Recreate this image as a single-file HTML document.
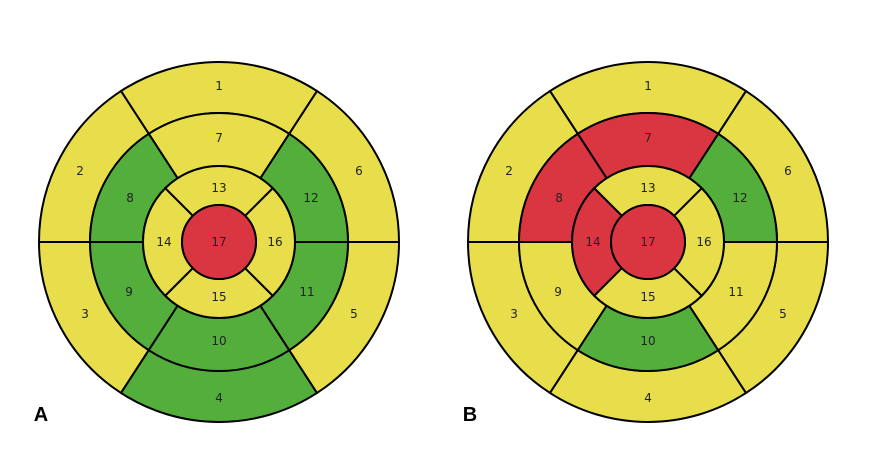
<!DOCTYPE html>
<html><head><style>body{margin:0;background:#fff}svg{display:block}</style></head><body>
<svg width="874" height="454" viewBox="0 0 874 454" xmlns="http://www.w3.org/2000/svg">
<defs>
<style>
path,circle{stroke:#000;stroke-width:2}
.y{fill:#e8de4c}.g{fill:#53ae3c}.r{fill:#da3641}
text{font-family:"DejaVu Sans","Liberation Sans",sans-serif;font-size:12px;fill:#222;text-anchor:middle;dominant-baseline:central}
</style>
</defs>
<g id="A" transform="translate(219,242)">
<path class="y" d="M-98,-150.97 A180,180 0 0 1 98,-150.97 L70.25,-108.19 A129,129 0 0 0 -70.25,-108.19Z"/>
<path class="y" d="M-180,0 A180,180 0 0 1 -98,-150.97 L-70.25,-108.19 A129,129 0 0 0 -129,0Z"/>
<path class="y" d="M-98,150.97 A180,180 0 0 1 -180,0 L-129,0 A129,129 0 0 0 -70.25,108.19Z"/>
<path class="g" d="M98,150.97 A180,180 0 0 1 -98,150.97 L-70.25,108.19 A129,129 0 0 0 70.25,108.19Z"/>
<path class="y" d="M180,0 A180,180 0 0 1 98,150.97 L70.25,108.19 A129,129 0 0 0 129,0Z"/>
<path class="y" d="M98,-150.97 A180,180 0 0 1 180,0 L129,0 A129,129 0 0 0 70.25,-108.19Z"/>
<path class="y" d="M-70.25,-108.19 A129,129 0 0 1 70.25,-108.19 L41.39,-63.74 A76,76 0 0 0 -41.39,-63.74Z"/>
<path class="g" d="M-129,0 A129,129 0 0 1 -70.25,-108.19 L-41.39,-63.74 A76,76 0 0 0 -76,0Z"/>
<path class="g" d="M-70.25,108.19 A129,129 0 0 1 -129,0 L-76,0 A76,76 0 0 0 -41.39,63.74Z"/>
<path class="g" d="M70.25,108.19 A129,129 0 0 1 -70.25,108.19 L-41.39,63.74 A76,76 0 0 0 41.39,63.74Z"/>
<path class="g" d="M129,0 A129,129 0 0 1 70.25,108.19 L41.39,63.74 A76,76 0 0 0 76,0Z"/>
<path class="g" d="M70.25,-108.19 A129,129 0 0 1 129,0 L76,0 A76,76 0 0 0 41.39,-63.74Z"/>
<path class="y" d="M-53.74,-53.74 A76,76 0 0 1 53.74,-53.74 L26.16,-26.16 A37,37 0 0 0 -26.16,-26.16Z"/>
<path class="y" d="M-53.74,53.74 A76,76 0 0 1 -53.74,-53.74 L-26.16,-26.16 A37,37 0 0 0 -26.16,26.16Z"/>
<path class="y" d="M53.74,53.74 A76,76 0 0 1 -53.74,53.74 L-26.16,26.16 A37,37 0 0 0 26.16,26.16Z"/>
<path class="y" d="M53.74,-53.74 A76,76 0 0 1 53.74,53.74 L26.16,26.16 A37,37 0 0 0 26.16,-26.16Z"/>
<circle class="r" r="37"/>
<text x="0" y="-156">1</text><text x="-139" y="-71">2</text><text x="-134" y="72">3</text><text x="0" y="156">4</text><text x="135" y="72">5</text><text x="140" y="-71">6</text>
<text x="0" y="-104">7</text><text x="-89" y="-44">8</text><text x="-90" y="50">9</text><text x="0" y="99">10</text><text x="88" y="50">11</text><text x="92" y="-44">12</text>
<text x="0" y="-54">13</text><text x="-55" y="0">14</text><text x="0" y="55">15</text><text x="56" y="0">16</text><text x="0" y="0">17</text>
</g>
<g transform="translate(648,242)">
<path class="y" d="M-98,-150.97 A180,180 0 0 1 98,-150.97 L70.25,-108.19 A129,129 0 0 0 -70.25,-108.19Z"/>
<path class="y" d="M-180,0 A180,180 0 0 1 -98,-150.97 L-70.25,-108.19 A129,129 0 0 0 -129,0Z"/>
<path class="y" d="M-98,150.97 A180,180 0 0 1 -180,0 L-129,0 A129,129 0 0 0 -70.25,108.19Z"/>
<path class="y" d="M98,150.97 A180,180 0 0 1 -98,150.97 L-70.25,108.19 A129,129 0 0 0 70.25,108.19Z"/>
<path class="y" d="M180,0 A180,180 0 0 1 98,150.97 L70.25,108.19 A129,129 0 0 0 129,0Z"/>
<path class="y" d="M98,-150.97 A180,180 0 0 1 180,0 L129,0 A129,129 0 0 0 70.25,-108.19Z"/>
<path class="r" d="M-70.25,-108.19 A129,129 0 0 1 70.25,-108.19 L41.39,-63.74 A76,76 0 0 0 -41.39,-63.74Z"/>
<path class="r" d="M-129,0 A129,129 0 0 1 -70.25,-108.19 L-41.39,-63.74 A76,76 0 0 0 -76,0Z"/>
<path class="y" d="M-70.25,108.19 A129,129 0 0 1 -129,0 L-76,0 A76,76 0 0 0 -41.39,63.74Z"/>
<path class="g" d="M70.25,108.19 A129,129 0 0 1 -70.25,108.19 L-41.39,63.74 A76,76 0 0 0 41.39,63.74Z"/>
<path class="y" d="M129,0 A129,129 0 0 1 70.25,108.19 L41.39,63.74 A76,76 0 0 0 76,0Z"/>
<path class="g" d="M70.25,-108.19 A129,129 0 0 1 129,0 L76,0 A76,76 0 0 0 41.39,-63.74Z"/>
<path class="y" d="M-53.74,-53.74 A76,76 0 0 1 53.74,-53.74 L26.16,-26.16 A37,37 0 0 0 -26.16,-26.16Z"/>
<path class="r" d="M-53.74,53.74 A76,76 0 0 1 -53.74,-53.74 L-26.16,-26.16 A37,37 0 0 0 -26.16,26.16Z"/>
<path class="y" d="M53.74,53.74 A76,76 0 0 1 -53.74,53.74 L-26.16,26.16 A37,37 0 0 0 26.16,26.16Z"/>
<path class="y" d="M53.74,-53.74 A76,76 0 0 1 53.74,53.74 L26.16,26.16 A37,37 0 0 0 26.16,-26.16Z"/>
<circle class="r" r="37"/>
<text x="0" y="-156">1</text><text x="-139" y="-71">2</text><text x="-134" y="72">3</text><text x="0" y="156">4</text><text x="135" y="72">5</text><text x="140" y="-71">6</text>
<text x="0" y="-104">7</text><text x="-89" y="-44">8</text><text x="-90" y="50">9</text><text x="0" y="99">10</text><text x="88" y="50">11</text><text x="92" y="-44">12</text>
<text x="0" y="-54">13</text><text x="-55" y="0">14</text><text x="0" y="55">15</text><text x="56" y="0">16</text><text x="0" y="0">17</text>
</g>
<text x="41" y="415" style="font-family:'Liberation Sans',sans-serif;font-size:20px;font-weight:bold;fill:#000">A</text>
<text x="470" y="415" style="font-family:'Liberation Sans',sans-serif;font-size:20px;font-weight:bold;fill:#000">B</text>
</svg>
</body></html>
